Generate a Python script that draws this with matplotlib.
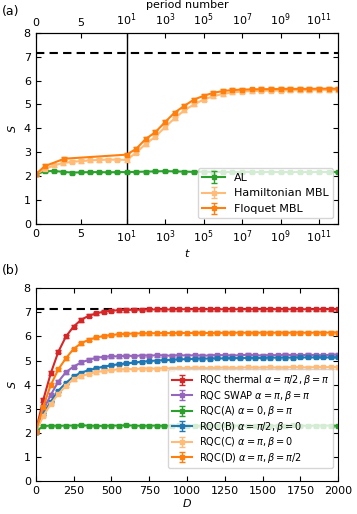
import numpy as np
import matplotlib
matplotlib.use("Agg")
import matplotlib.pyplot as plt

# ---------------- data panel (a) ----------------
t_lin = [0, 1, 2, 3, 4, 5, 6, 7, 8, 9, 10]
t_log_exp = [1.5, 2, 2.5, 3, 3.5, 4, 4.5, 5, 5.5, 6, 6.5, 7, 7.5, 8, 8.5, 9, 9.5,
             10, 10.5, 11, 11.5, 12]

al_lin = [2.08, 2.20, 2.22, 2.18, 2.15, 2.16, 2.17, 2.17, 2.16, 2.17, 2.17]
al_log = [2.18, 2.19, 2.20, 2.21, 2.20, 2.19, 2.18, 2.19, 2.18, 2.18, 2.17, 2.18,
          2.18, 2.17, 2.18, 2.17, 2.17, 2.18, 2.17, 2.18, 2.17, 2.18]

ham_lin = [2.08, 2.30, 2.45, 2.55, 2.60, 2.63, 2.66, 2.68, 2.69, 2.69, 2.68]
ham_log = [2.98, 3.35, 3.65, 4.05, 4.42, 4.75, 5.00, 5.20, 5.34, 5.44, 5.50, 5.54,
           5.56, 5.57, 5.58, 5.58, 5.59, 5.59, 5.59, 5.60, 5.60, 5.60]

flo_t_lin = [0, 1, 3.16, 10]
flo_lin = [2.08, 2.42, 2.73, 2.90]
flo_log = [3.14, 3.56, 3.84, 4.26, 4.66, 4.94, 5.20, 5.36, 5.48, 5.56, 5.60, 5.62,
           5.63, 5.64, 5.64, 5.65, 5.65, 5.65, 5.65, 5.66, 5.66, 5.66]

page_value = 7.16

# ---------------- data panel (b) ----------------
D = np.arange(0, 2001, 50)

rqc_thermal = [2.05, 3.37, 4.48, 5.37, 6.00, 6.41, 6.69, 6.86, 6.96, 7.03, 7.07, 7.09,
               7.10, 7.11, 7.11, 7.12, 7.12, 7.12, 7.12, 7.13, 7.13, 7.13, 7.13, 7.13,
               7.13, 7.13, 7.13, 7.13, 7.13, 7.13, 7.13, 7.13, 7.13, 7.13, 7.13, 7.13,
               7.13, 7.13, 7.13, 7.13, 7.13]
rqc_swap = [2.05, 2.95, 3.58, 4.13, 4.52, 4.75, 4.92, 5.03, 5.12, 5.15, 5.18, 5.17,
            5.20, 5.19, 5.21, 5.20, 5.22, 5.21, 5.20, 5.22, 5.21, 5.22, 5.20, 5.21,
            5.23, 5.22, 5.21, 5.22, 5.24, 5.22, 5.21, 5.23, 5.22, 5.24, 5.23, 5.22,
            5.24, 5.23, 5.22, 5.24, 5.24]
rqc_a = [2.05, 2.28, 2.30, 2.29, 2.30, 2.30, 2.31, 2.30, 2.29, 2.29, 2.30, 2.30,
         2.31, 2.30, 2.29, 2.30, 2.30, 2.29, 2.30, 2.31, 2.30, 2.30, 2.29, 2.30,
         2.30, 2.31, 2.30, 2.29, 2.30, 2.30, 2.30, 2.29, 2.30, 2.30, 2.31, 2.30,
         2.29, 2.30, 2.30, 2.30, 2.29]
rqc_b = [2.05, 2.80, 3.30, 3.75, 4.07, 4.34, 4.50, 4.60, 4.68, 4.75, 4.80, 4.85,
         4.88, 4.92, 4.95, 4.98, 5.00, 5.02, 5.03, 5.05, 5.06, 5.07, 5.08, 5.08,
         5.09, 5.09, 5.10, 5.10, 5.11, 5.11, 5.11, 5.12, 5.12, 5.12, 5.12, 5.13,
         5.13, 5.13, 5.13, 5.13, 5.13]
rqc_c = [2.05, 2.70, 3.20, 3.62, 3.95, 4.23, 4.35, 4.45, 4.52, 4.57, 4.61, 4.63,
         4.64, 4.65, 4.66, 4.67, 4.66, 4.68, 4.67, 4.69, 4.68, 4.70, 4.69, 4.68,
         4.70, 4.71, 4.69, 4.70, 4.72, 4.70, 4.71, 4.72, 4.70, 4.71, 4.73, 4.72,
         4.71, 4.73, 4.72, 4.73, 4.73]
rqc_d = [2.05, 3.09, 3.99, 4.64, 5.10, 5.48, 5.72, 5.86, 5.96, 6.02, 6.06, 6.09,
         6.11, 6.12, 6.13, 6.13, 6.14, 6.14, 6.14, 6.15, 6.14, 6.15, 6.15, 6.14,
         6.15, 6.15, 6.15, 6.16, 6.15, 6.15, 6.16, 6.15, 6.16, 6.15, 6.16, 6.16,
         6.15, 6.16, 6.16, 6.16, 6.16]

labels_b = [r"RQC thermal $\alpha=\pi/2, \beta=\pi$",
            r"RQC SWAP $\alpha=\pi, \beta=\pi$",
            r"RQC(A) $\alpha=0, \beta=\pi$",
            r"RQC(B) $\alpha=\pi/2, \beta=0$",
            r"RQC(C) $\alpha=\pi, \beta=0$",
            r"RQC(D) $\alpha=\pi, \beta=\pi/2$"]
colors_b = ["#d62728", "#9467bd", "#2ca02c", "#1f77b4", "#ffbb78", "#ff7f0e"]
errs_b = [0.07, 0.06, 0.04, 0.04, 0.06, 0.06]

xt_vals = [0, 5, 10, 1e3, 1e5, 1e7, 1e9, 1e11]
xt_labels = ["0", "5", r"$10^{1}$", r"$10^{3}$", r"$10^{5}$", r"$10^{7}$",
             r"$10^{9}$", r"$10^{11}$"]

# ---------------- scale ----------------
K = 2.12


def fwd(x):
    x = np.asarray(x, dtype=float)
    with np.errstate(all="ignore"):
        lg = 10 + K * np.log10(np.maximum(x, 10) / 10)
    return np.where(x <= 10, x, lg)


def inv(u):
    u = np.asarray(u, dtype=float)
    with np.errstate(all="ignore"):
        ex = 10 * 10 ** ((np.minimum(u, 60) - 10) / K)
    return np.where(u <= 10, u, ex)


plt.rcParams["font.family"] = ["DejaVu Sans"]
plt.rcParams["font.size"] = 8
plt.rcParams["mathtext.fontset"] = "dejavusans"

fig = plt.figure(figsize=(3.57, 5.14), dpi=100)
axa = fig.add_axes([0.1, 0.5642, 0.8476, 0.3722])
axb = fig.add_axes([0.1, 0.0642, 0.8476, 0.3749])

ekw = dict(marker="s", ms=2.5, capsize=2, lw=1.5, elinewidth=1)

t_log = [10 ** e for e in t_log_exp]
al_t = t_lin + t_log
axa.errorbar(al_t, al_lin + al_log, yerr=0.04, color="#2ca02c", label="AL", **ekw)
axa.errorbar(al_t, ham_lin + ham_log, yerr=0.07, color="#ffbb78",
             label="Hamiltonian MBL", **ekw)
axa.errorbar(flo_t_lin + t_log, flo_lin + flo_log, yerr=0.07, color="#ff7f0e",
             label="Floquet MBL", **ekw)
axa.axhline(page_value, color="black", ls="--", lw=1.5, dashes=(4, 2.5), zorder=0.5)
axa.axvline(10, color="black", lw=1)
axa.set_xscale("function", functions=(fwd, inv))
axa.set_xlim(0, 1e12)
axa.set_ylim(0, 8)
axa.set_xticks(xt_vals)
axa.set_xticklabels(xt_labels)
axa.xaxis.set_minor_locator(matplotlib.ticker.NullLocator())
axa.set_yticks(range(0, 9))
axa.set_xlabel(r"$t$", labelpad=1)
axa.set_ylabel(r"$S$")
axa.tick_params(direction="in", right=True, labelsize=8)
axa.legend(loc="lower right", fontsize=8)

axt = axa.twiny()
axt.set_xscale("function", functions=(fwd, inv))
axt.set_xlim(0, 1e12)
axt.set_xticks(xt_vals)
axt.set_xticklabels(xt_labels)
axt.xaxis.set_minor_locator(matplotlib.ticker.NullLocator())
axt.tick_params(direction="in", labelsize=8)
axt.set_xlabel("period number", labelpad=2)

series_b = [rqc_thermal, rqc_swap, rqc_a, rqc_b, rqc_c, rqc_d]
for vals, lab, col, er in zip(series_b, labels_b, colors_b, errs_b):
    axb.errorbar(D, vals, yerr=er, color=col, label=lab, **ekw)
axb.axhline(page_value, color="black", ls="--", lw=1.5, dashes=(4, 2.5), zorder=0.5)
axb.set_xlim(0, 2000)
axb.set_ylim(0, 8)
axb.set_xticks(range(0, 2001, 250))
axb.set_yticks(range(0, 9))
axb.set_xlabel(r"$D$", labelpad=1)
axb.set_ylabel(r"$S$")
axb.tick_params(direction="in", right=True, top=True, labelsize=8)
axb.legend(loc="lower right", fontsize=7, labelspacing=0.15,
           bbox_to_anchor=(1.0, 0.04))

fig.text(0.005, 0.977, "(a)", fontsize=9, va="center", ha="left")
fig.text(0.005, 0.4747, "(b)", fontsize=9, va="center", ha="left")

fig.savefig("out.png", dpi=100)
